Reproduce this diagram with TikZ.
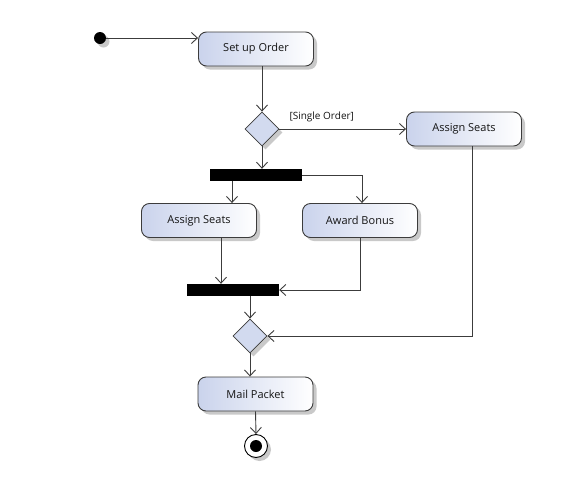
\documentclass[tikz,border=0pt]{standalone}
\usepackage{fontspec}
\setmainfont{Open Sans}
\usetikzlibrary{shapes.geometric,arrows.meta,shadows}
\definecolor{boxblue}{HTML}{CAD3EC}
\definecolor{edgegray}{HTML}{3C3C3C}
\definecolor{txt}{HTML}{141414}
\tikzset{
  shad/.style={drop shadow={shadow xshift=3.5pt,shadow yshift=-3.5pt,opacity=0.35,fill=black!60}},
  action/.style={rectangle,rounded corners=8pt,draw=edgegray,line width=0.9pt,
    left color=boxblue,right color=white,minimum width=115pt,minimum height=34pt,
    inner sep=0pt,font=\fontsize{11}{13}\selectfont,text=txt,shad},
  decision/.style={diamond,draw=edgegray,line width=0.8pt,fill=boxblue!85,
    minimum width=34pt,minimum height=34pt,inner sep=0pt,aspect=1,shad},
  bar/.style={rectangle,fill=black,draw=none,minimum width=92pt,minimum height=12pt,inner sep=0pt},
  flow/.style={draw=edgegray,line width=0.9pt,-{Straight Barb[length=6pt,width=11pt,line width=0.9pt]}},
}
\begin{document}
\begin{tikzpicture}[x=1pt,y=-1pt]
\useasboundingbox[fill=white] (0,0) rectangle (579,480);
\node[circle,fill=black,minimum size=12pt,inner sep=0pt,shad] (init) at (100,38) {};
\node[action] (setup) at (256,49) {Set up Order};
\node[decision] (d1) at (262,129) {};
\node[action] (seatsR) at (464,129) {Assign Seats};
\node[bar] (fork) at (256,175) {};
\node[action] (seatsL) at (199,220.5) {Assign Seats};
\node[action] (award) at (360,220.5) {Award Bonus};
\node[bar] (join) at (233,290) {};
\node[decision] (d2) at (250,336) {};
\node[action] (mail) at (255.5,394) {Mail Packet};
\node[circle,draw=black,line width=0.9pt,fill=white,minimum size=23pt,inner sep=0pt,shad] (final) at (256,446) {};
\node[circle,fill=black,minimum size=12pt,inner sep=0pt] (finaldot) at (final) {};
\node[font=\fontsize{10}{12}\selectfont,text=txt,anchor=base west] (guard) at (286,119) {[Single Order]};

\path[flow] (init) -- (init -| setup.west);
\path[flow] (setup.south -| d1.north) -- (d1.north);
\path[flow] (d1.east) -- (seatsR.west);
\path[flow] (d1.south) -- (d1.south |- fork.north);
\path[flow] ([xshift=-24pt]fork.south) -- ([xshift=-24pt]fork.south |- seatsL.north);
\path[flow] (fork.east) -| ([xshift=2pt]award.north);
\path[flow] ([xshift=22pt]seatsL.south) -- ([xshift=22pt]seatsL.south |- join.north);
\path[flow] (award.south) |- (join.east);
\path[flow] (join.south -| d2.north) -- (d2.north);
\path[flow] ([xshift=8pt]seatsR.south) |- (d2.east);
\path[flow] (d2.south) -- (d2.south |- mail.north);
\path[flow] (mail.south) -- (final.north);
\end{tikzpicture}
\end{document}
